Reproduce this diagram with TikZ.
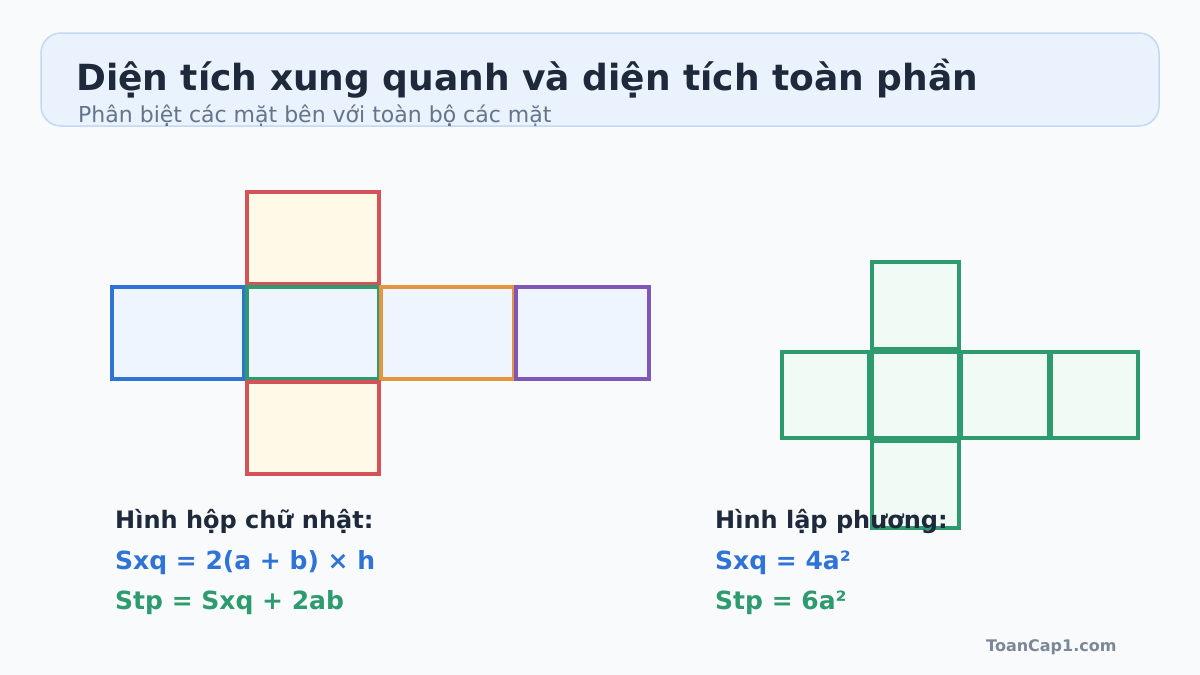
\documentclass[tikz,border=0pt]{standalone}
\usepackage{amsmath}
\usepackage{xcolor}
\usepackage{fontspec}
\setmainfont{DejaVu Sans}
\usepackage{tikz}

\definecolor{bgpage}{HTML}{F8FAFC}
\definecolor{headfill}{HTML}{EAF2FE}
\definecolor{headline}{HTML}{C5D8F3}
\definecolor{titleink}{HTML}{1E293B}
\definecolor{subink}{HTML}{64748B}
\definecolor{redface}{HTML}{D45358}
\definecolor{yellowfill}{HTML}{FFF9E8}
\definecolor{bluefill}{HTML}{EEF5FF}
\definecolor{blueface}{HTML}{2F73D6}
\definecolor{greenface}{HTML}{2E9B6E}
\definecolor{orangeface}{HTML}{E6953F}
\definecolor{purpleface}{HTML}{7E57B8}
\definecolor{greenfill}{HTML}{F0FBF5}
\definecolor{markink}{HTML}{7C8798}

\begin{document}
\begin{tikzpicture}[x=1pt,y=-1pt,
    face/.style={line width=3.2pt},
    label/.style={anchor=base west,inner sep=0pt,font=\fontsize{24}{28}\selectfont\bfseries},
    formula/.style={label,font=\fontsize{25}{30}\selectfont\bfseries}]
                \useasboundingbox[fill=bgpage] (0,0) rectangle (1200,675);
                % header
                \draw[fill=headfill,draw=headline,line width=1.5pt,rounded corners=20pt]
                    (41,33) rectangle (1159,126);
                \node[anchor=base west,inner sep=0pt,text=titleink,
                    font=\fontsize{36}{42}\selectfont\bfseries] (title) at (76,90)
                    {Diện tích xung quanh và diện tích toàn phần};
                \node[anchor=base west,inner sep=0pt,text=subink,
                    font=\fontsize{22}{26}\selectfont] (subtitle) at (78,122)
                    {Phân biệt các mặt bên với toàn bộ các mặt};
                % hinh hop chu nhat
                \draw[face,draw=redface,fill=yellowfill] (247,192) rectangle (379,284);
                \draw[face,draw=blueface,fill=bluefill] (112,287) rectangle (244,379);
                \draw[face,draw=greenface,fill=bluefill] (247,287) rectangle (379,379);
                \draw[face,draw=orangeface,fill=bluefill] (381,287) rectangle (514,379);
                \draw[face,draw=purpleface,fill=bluefill] (516,287) rectangle (649,379);
                \draw[face,draw=redface,fill=yellowfill] (247,382) rectangle (379,474);
                % hinh lap phuong
                \draw[face,draw=greenface,fill=greenfill] (872,262) rectangle (959,349);
                \draw[face,draw=greenface,fill=greenfill] (782,352) rectangle (869,438);
                \draw[face,draw=greenface,fill=greenfill] (872,352) rectangle (959,438);
                \draw[face,draw=greenface,fill=greenfill] (961,352) rectangle (1049,438);
                \draw[face,draw=greenface,fill=greenfill] (1051,352) rectangle (1138,438);
                \draw[face,draw=greenface,fill=greenfill] (872,441) rectangle (959,528);
                % cong thuc
                \node[label,text=titleink] (boxname) at (115,528) {Hình hộp chữ nhật:};
                \node[formula,text=blueface] (boxsxq) at (115,569) {Sxq = 2(a + b) × h};
                \node[formula,text=greenface] (boxstp) at (115,609) {Stp = Sxq + 2ab};
                \node[label,text=titleink] (cubename) at (715,528) {Hình lập phương:};
                \node[formula,text=blueface] (cubesxq) at (715,569) {Sxq = 4a²};
                \node[formula,text=greenface] (cubestp) at (715,609) {Stp = 6a²};
                \node[anchor=base west,inner sep=0pt,text=markink,
                    font=\fontsize{16}{19}\selectfont\bfseries] (mark) at (986,651) {ToanCap1.com};
            \end{tikzpicture}
\end{document}
